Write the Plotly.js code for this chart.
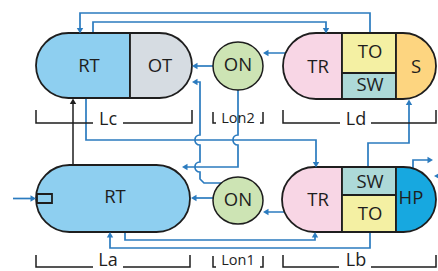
<!DOCTYPE html>
<html><head><meta charset="utf-8">
<script src="https://cdn.plot.ly/plotly-3.0.1.min.js"></script>
<style>html,body{margin:0;padding:0;background:#fff;overflow:hidden}</style>
</head><body><div id="chart" style="width:438px;height:271px"></div>
<script>
// ---- diagram content ----
const topUnitLabels = ["RT", "OT", "ON", "TR", "TO", "SW", "S"];
const bottomUnitLabels = ["RT", "ON", "TR", "SW", "TO", "HP"];
const topBracketLabels = ["Lc", "Lon2", "Ld"];
const bottomBracketLabels = ["La", "Lon1", "Lb"];

// ---- geometry / styles ----
const K = 0.5523;
const BLUE = "#2b7bbf", INK = "#1e1e1e";
const C = {RT:"#8ecff0", OT:"#d6dce2", ON:"#cde4b4", TR:"#f8d6e5", TO:"#f4f0a3", SW:"#add9d8", S:"#fdd580", HP:"#17a8e0"};
const lineShapes = [], unitShapes = [], headShapes = [], bracketShapes = [];

function leftCap(x0, y0, y1, xr) {
  const r = (y1 - y0) / 2, cx = x0 + r, cy = (y0 + y1) / 2;
  return `M${xr},${y0} L${cx},${y0} C${cx-K*r},${y0} ${x0},${cy-K*r} ${x0},${cy} C${x0},${cy+K*r} ${cx-K*r},${y1} ${cx},${y1} L${xr},${y1} Z`;
}
function rightCap(xl, x1, y0, y1) {
  const r = (y1 - y0) / 2, cx = x1 - r, cy = (y0 + y1) / 2;
  return `M${xl},${y0} L${cx},${y0} C${cx+K*r},${y0} ${x1},${cy-K*r} ${x1},${cy} C${x1},${cy+K*r} ${cx+K*r},${y1} ${cx},${y1} L${xl},${y1} Z`;
}
function capsule(x0, x1, y0, y1) {
  const r = (y1 - y0) / 2, cl = x0 + r, cr = x1 - r, cy = (y0 + y1) / 2;
  return `M${cl},${y0} L${cr},${y0} C${cr+K*r},${y0} ${x1},${cy-K*r} ${x1},${cy} C${x1},${cy+K*r} ${cr+K*r},${y1} ${cr},${y1} ` +
         `L${cl},${y1} C${cl-K*r},${y1} ${x0},${cy+K*r} ${x0},${cy} C${x0},${cy-K*r} ${cl-K*r},${y0} ${cl},${y0} Z`;
}
function rectP(x0, x1, y0, y1) { return `M${x0},${y0} L${x1},${y0} L${x1},${y1} L${x0},${y1} Z`; }
function fillShape(path, color) {
  unitShapes.push({type:"path", xref:"x", yref:"y", path, fillcolor:color, line:{color:INK, width:1.8}, layer:"below"});
}
function line(path, color, w) {
  lineShapes.push({type:"path", xref:"x", yref:"y", path, line:{color:color||BLUE, width:w||1.7}, layer:"below"});
}
function head(tx, ty, dir, color) {
  const L = 5.5, H = 3.2; let p;
  if (dir === "L") p = `M${tx},${ty} L${tx+L},${ty-H} L${tx+L},${ty+H} Z`;
  if (dir === "R") p = `M${tx},${ty} L${tx-L},${ty-H} L${tx-L},${ty+H} Z`;
  if (dir === "U") p = `M${tx},${ty} L${tx-H},${ty+L} L${tx+H},${ty+L} Z`;
  if (dir === "D") p = `M${tx},${ty} L${tx-H},${ty-L} L${tx+H},${ty-L} Z`;
  headShapes.push({type:"path", xref:"x", yref:"y", path:p, fillcolor:color||BLUE, line:{width:0}, layer:"below"});
}
function hopV(x, yLow, yHigh) { // going up: from yLow to yHigh with hop bulging left
  const d = 1.35 * (yLow - yHigh) / 2;
  return `L${x},${yLow} C${x-d},${yLow} ${x-d},${yHigh} ${x},${yHigh}`;
}

// ---- connecting lines ----
line("M370,33 L370,13 L80,13 L80,29");            head(80, 33.5, "D");
line("M93,33 L93,22 L326,22 L326,29");             head(326, 33.5, "D");
line("M348,53 L268,53");                           head(263, 53, "L");
line("M213,66 L197,66");                           head(192, 66, "L");
line("M86,98 L86,140 L316,140 L316,163");          head(316, 167.5, "D");
line("M73,165 L73,103", INK, 1.5);                 head(73, 98.5, "U", INK);
line("M238,90 L238,135 C231.3,135 231.3,145 238,145 L238,167 L187,167"); head(182, 167, "L");
line("M223,183 L204,183 L200,179 " + hopV(200,172,162) + " " + hopV(200,145,135) + " L200,82 L197,82");
head(192, 82, "L");
line("M213,198 L196,198");                         head(191, 198, "L");
line("M13,198.5 L31,198.5");                       head(36, 198.5, "R");
line("M125,232 L125,240 L315,240 L315,237");       head(315, 232, "U");
line("M370,232 L370,248 L110,248 L110,237");       head(110, 232, "U");
line("M348,212 L268,212");                         head(263, 212, "L");
line("M368,167 L368,143 L409,143 L409,105");       head(409, 99.5, "U");
line("M413,168 L413,160 L428,160");                head(433, 160, "R");
line("M446,176 L439,176");                         head(434, 176, "L");

// ---- units ----
fillShape(leftCap(36, 33, 98, 130), C.RT);
fillShape(rightCap(130, 192, 33, 98), C.OT);
fillShape(leftCap(283, 33, 99, 342), C.TR);
fillShape(rectP(342, 396, 33, 73), C.TO);
fillShape(rectP(342, 396, 73, 99), C.SW);
fillShape(rightCap(396, 436, 33, 99), C.S);
fillShape(capsule(36, 190, 165, 232), C.RT);
fillShape(rectP(37, 52, 194, 203), C.RT);
fillShape(leftCap(282, 167, 232, 342), C.TR);
fillShape(rectP(342, 396, 167, 195), C.SW);
fillShape(rectP(342, 396, 195, 232), C.TO);
fillShape(rightCap(396, 436, 167, 232), C.HP);
unitShapes.push({type:"circle", xref:"x", yref:"y", x0:213, x1:263, y0:42, y1:90, fillcolor:C.ON, line:{color:INK, width:1.5}, layer:"below"});
unitShapes.push({type:"circle", xref:"x", yref:"y", x0:213, x1:263, y0:177, y1:224, fillcolor:C.ON, line:{color:INK, width:1.5}, layer:"below"});

// ---- length brackets (line broken around the label) ----
function bracket(x0, x1, yTop, yBase, gapL, gapR) {
  bracketShapes.push({type:"path", xref:"x", yref:"y", path:`M${x0},${yTop} L${x0},${yBase} L${gapL},${yBase}`, line:{color:INK, width:1.5}, layer:"below"});
  bracketShapes.push({type:"path", xref:"x", yref:"y", path:`M${gapR},${yBase} L${x1},${yBase} L${x1},${yTop}`, line:{color:INK, width:1.5}, layer:"below"});
}
bracket(36, 192, 110, 123, 93, 123); bracket(283, 436, 110, 123, 340, 371);
bracket(36, 190, 255, 267, 93, 123); bracket(283, 436, 255, 267, 339, 371);
function smallBracket(x0, x1, yTop, yBase) {
  bracketShapes.push({type:"path", xref:"x", yref:"y", path:`M${x0},${yTop} L${x0},${yBase} L${x0+3},${yBase}`, line:{color:INK, width:1.5}, layer:"below"});
  bracketShapes.push({type:"path", xref:"x", yref:"y", path:`M${x1},${yTop} L${x1},${yBase} L${x1-3},${yBase}`, line:{color:INK, width:1.5}, layer:"below"});
}
smallBracket(213, 263, 112, 123); smallBracket(213, 263, 256, 267);

const FONT = "Open Sans, Noto Sans, sans-serif";
const brX = [108, 238, 356];

// ---- labels as text traces ----
const topX = [89, 160, 238, 318, 370, 370, 416], topY = [67, 67, 66, 68, 53, 86, 68];
const botX = [115, 238, 318, 370, 370, 411], botY = [198, 201, 201, 183, 215, 199];
const unitTrace = {
  type:"scatter", mode:"text",
  x: topX.concat(botX), y: topY.concat(botY),
  text: topUnitLabels.concat(bottomUnitLabels),
  textposition:"middle center",
  textfont:{family:FONT, size:18.5, color:INK},
  hoverinfo:"skip", showlegend:false, cliponaxis:false
};
const bracketTrace = {
  type:"scatter", mode:"text",
  x: brX.concat(brX), y: [120, 119, 120, 261, 261, 261],
  text: topBracketLabels.concat(bottomBracketLabels),
  textposition:"middle center",
  textfont:{family:FONT, size:[18, 14.5, 18, 18, 14.5, 18], color:INK},
  hoverinfo:"skip", showlegend:false, cliponaxis:false
};

Plotly.newPlot("chart", [unitTrace, bracketTrace], {
  width:438, height:271,
  margin:{l:0, r:0, t:0, b:0, pad:0},
  paper_bgcolor:"#ffffff", plot_bgcolor:"#ffffff",
  xaxis:{range:[0,438], visible:false, fixedrange:true},
  yaxis:{range:[271,0], visible:false, fixedrange:true},
  shapes: lineShapes.concat(unitShapes, headShapes, bracketShapes),
  showlegend:false
}, {staticPlot:true, displayModeBar:false});
</script></body></html>
